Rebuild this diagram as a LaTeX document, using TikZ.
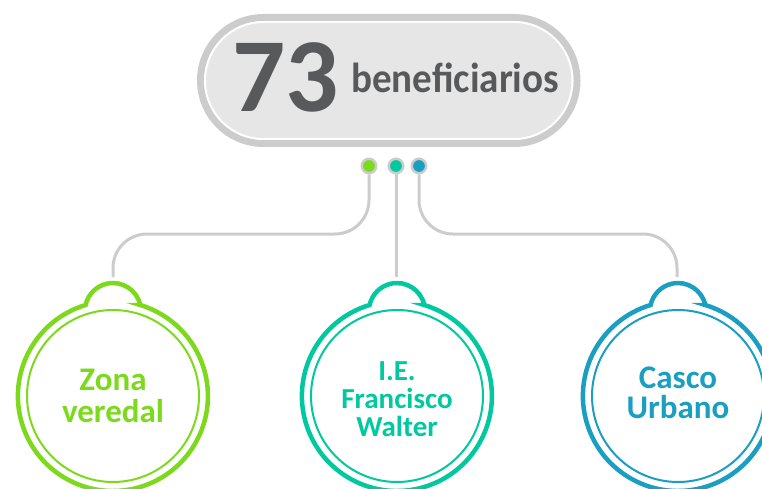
\documentclass[tikz,border=0pt]{standalone}
\usepackage{fontspec}
\setmainfont{Carlito}
\usepackage{xcolor}
\definecolor{verde}{HTML}{7DD91C}
\definecolor{turquesa}{HTML}{00C9A0}
\definecolor{azul}{HTML}{1A9FC2}
\definecolor{gris}{HTML}{CCCCCC}
\definecolor{fondo}{HTML}{E6E6E6}
\definecolor{texto}{HTML}{58595B}

\begin{document}
\begin{tikzpicture}[x=1pt,y=1pt,
    enlace/.style={gris, line width=3pt, rounded corners=34pt},
    punto/.style={circle, fill=#1, draw=gris, line width=2.5pt, minimum size=14.5pt, inner sep=0pt},
    etiqueta/.style={text=#1, font=\bfseries\fontsize{33}{32}\selectfont, align=center, inner sep=0pt}]
    \useasboundingbox (0,0) rectangle (762,488);
    \clip (0,0) rectangle (762,488);
    % capsula
    \draw[gris, line width=7pt, fill=fondo, rounded corners=63pt] (200.5,344.5) rectangle (577,470.5);
    \draw[white, line width=2pt, rounded corners=58.5pt] (205,349) rectangle (572.5,466);
    \node[anchor=base west, text=texto, font=\bfseries\fontsize{105}{105}\selectfont, inner sep=0pt] (num) at (232,376) {73};
    \node[anchor=base west, text=texto, font=\bfseries\fontsize{42}{42}\selectfont, inner sep=0pt, xscale=.93] (ben) at (351,395) {beneficiarios};
    % puntos
    \node[punto=verde] (pv) at (369,322) {};
    \node[punto=turquesa] (pt) at (396,322) {};
    \node[punto=azul] (pa) at (419,322) {};
    % circulos
    \foreach \cx/\col in {113/verde, 397/turquesa, 678/azul}{
        \draw[\col, line width=4.5pt, fill=white] (\cx,92) ++(73.3:95) arc[start angle=12.4, end angle=167.6, radius=28]
            arc[start angle=106.7, end angle=433.3, radius=95] -- cycle;
        \draw[\col, line width=2pt] (\cx,92) circle (86);
    }
    \coordinate (tv) at (113,211);
    \coordinate (tt) at (396,211);
    \coordinate (ta) at (677,211);
    % enlaces
    \draw[enlace] (pv.south) -- ++(0,-59.5) -| (tv);
    \draw[enlace] (pt.south) -- (tt);
    \draw[enlace] (pa.south) -- ++(0,-59.5) -| (ta);
    % textos
    \node[etiqueta=verde] (zv) at (113,92) {Zona\\veredal};
    \node[etiqueta=turquesa, font=\bfseries\fontsize{29}{28}\selectfont] (ie) at (397,89) {I.E.\\Francisco\\Walter};
    \node[etiqueta=azul, font=\bfseries\fontsize{33}{30}\selectfont] (cu) at (678,95) {Casco\\Urbano};
\end{tikzpicture}
\end{document}
